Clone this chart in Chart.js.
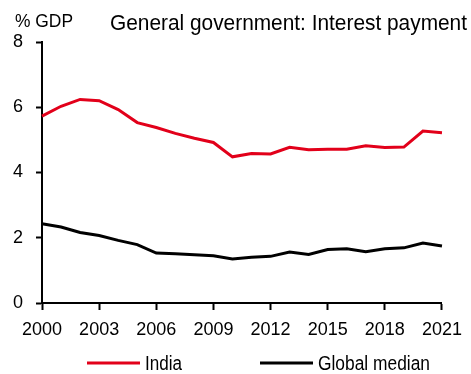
<!DOCTYPE html>
<html>
<head>
<meta charset="utf-8">
<script src="https://cdn.jsdelivr.net/npm/chart.js@4"></script>
<style>
  html, body { margin: 0; padding: 0; background: #fff; }
  #wrap { width: 471px; height: 374px; }
</style>
</head>
<body>
<div id="wrap"><canvas id="chart" width="471" height="374"></canvas></div>
<script>
var YEARS = [2000, 2001, 2002, 2003, 2004, 2005, 2006, 2007, 2008, 2009, 2010,
  2011, 2012, 2013, 2014, 2015, 2016, 2017, 2018, 2019, 2020, 2021];
var INDIA = [5.73, 6.03, 6.24, 6.2, 5.93, 5.53, 5.38, 5.2, 5.05, 4.92, 4.48,
  4.58, 4.57, 4.77, 4.7, 4.71, 4.71, 4.82, 4.77, 4.78, 5.27, 5.22];
var GLOBAL = [2.43, 2.33, 2.16, 2.07, 1.92, 1.79, 1.53, 1.51, 1.48, 1.45, 1.35,
  1.4, 1.43, 1.56, 1.49, 1.64, 1.66, 1.57, 1.66, 1.69, 1.84, 1.75];
var Y_TICKS = [0, 2, 4, 6, 8];
var TITLE = 'General government: Interest payment';
var UNIT = '% GDP';

var RED = '#e2001a';
var FONT = "'Liberation Sans', Arial, sans-serif";

// title, unit label and legend are painted on top of the chart;
// the maxWidth argument of fillText squeezes them like a narrow face
var extras = {
  id: 'extras',
  afterDraw: function(chart) {
    var c = chart.ctx;
    c.save();
    c.fillStyle = '#000';
    c.textBaseline = 'alphabetic';
    c.font = '18px ' + FONT;
    c.fillText(UNIT, 15, 27, 58);
    c.font = '22px ' + FONT;
    c.fillText(TITLE, 110, 30, 357);

    var items = [
      { x: 87, w: 37, ds: chart.data.datasets[0] },
      { x: 260, w: 112, ds: chart.data.datasets[1] }
    ];
    c.font = '20px ' + FONT;
    items.forEach(function(it) {
      c.strokeStyle = it.ds.borderColor;
      c.lineWidth = 3;
      c.beginPath();
      c.moveTo(it.x, 363);
      c.lineTo(it.x + 53, 363);
      c.stroke();
      c.fillText(it.ds.label, it.x + 58, 370, it.w);
    });
    c.restore();
  }
};

var ctx = document.getElementById('chart');
var chart = new Chart(ctx, {
  type: 'line',
  data: {
    labels: YEARS,
    datasets: [{
      label: 'India',
      data: INDIA,
      borderColor: RED,
      borderWidth: 3,
      pointRadius: 0,
      tension: 0
    }, {
      label: 'Global median',
      data: GLOBAL,
      borderColor: '#000',
      borderWidth: 3,
      pointRadius: 0,
      tension: 0
    }]
  },
  options: {
    responsive: false,
    animation: false,
    layout: { padding: { top: 42, right: 24, bottom: 31, left: 0 } },
    plugins: {
      legend: { display: false },
      title: { display: false },
      tooltip: { enabled: false }
    },
    scales: {
      x: {
        type: 'category',
        offset: false,
        afterFit: function(scale) { scale.height = 40; },
        grid: { drawOnChartArea: false, tickLength: 7, tickWidth: 2, color: '#000' },
        border: { color: '#000', width: 2 },
        ticks: {
          autoSkip: false,
          maxRotation: 0,
          padding: 9,
          color: '#000',
          font: { family: FONT, size: 18 },
          callback: function(val, i) {
            return (i % 3 === 0 || i === YEARS.length - 1) ? YEARS[i] : null;
          }
        }
      },
      y: {
        min: 0,
        max: 8,
        afterFit: function(scale) { scale.width = 42; },
        afterBuildTicks: function(scale) {
          scale.ticks = Y_TICKS.map(function(v) { return { value: v }; });
        },
        grid: { drawOnChartArea: false, tickLength: 6, tickWidth: 2, color: '#000' },
        border: { color: '#000', width: 2 },
        ticks: {
          padding: 13,
          color: '#000',
          font: { family: FONT, size: 18 }
        }
      }
    }
  },
  plugins: [extras]
});
</script>
</body>
</html>
